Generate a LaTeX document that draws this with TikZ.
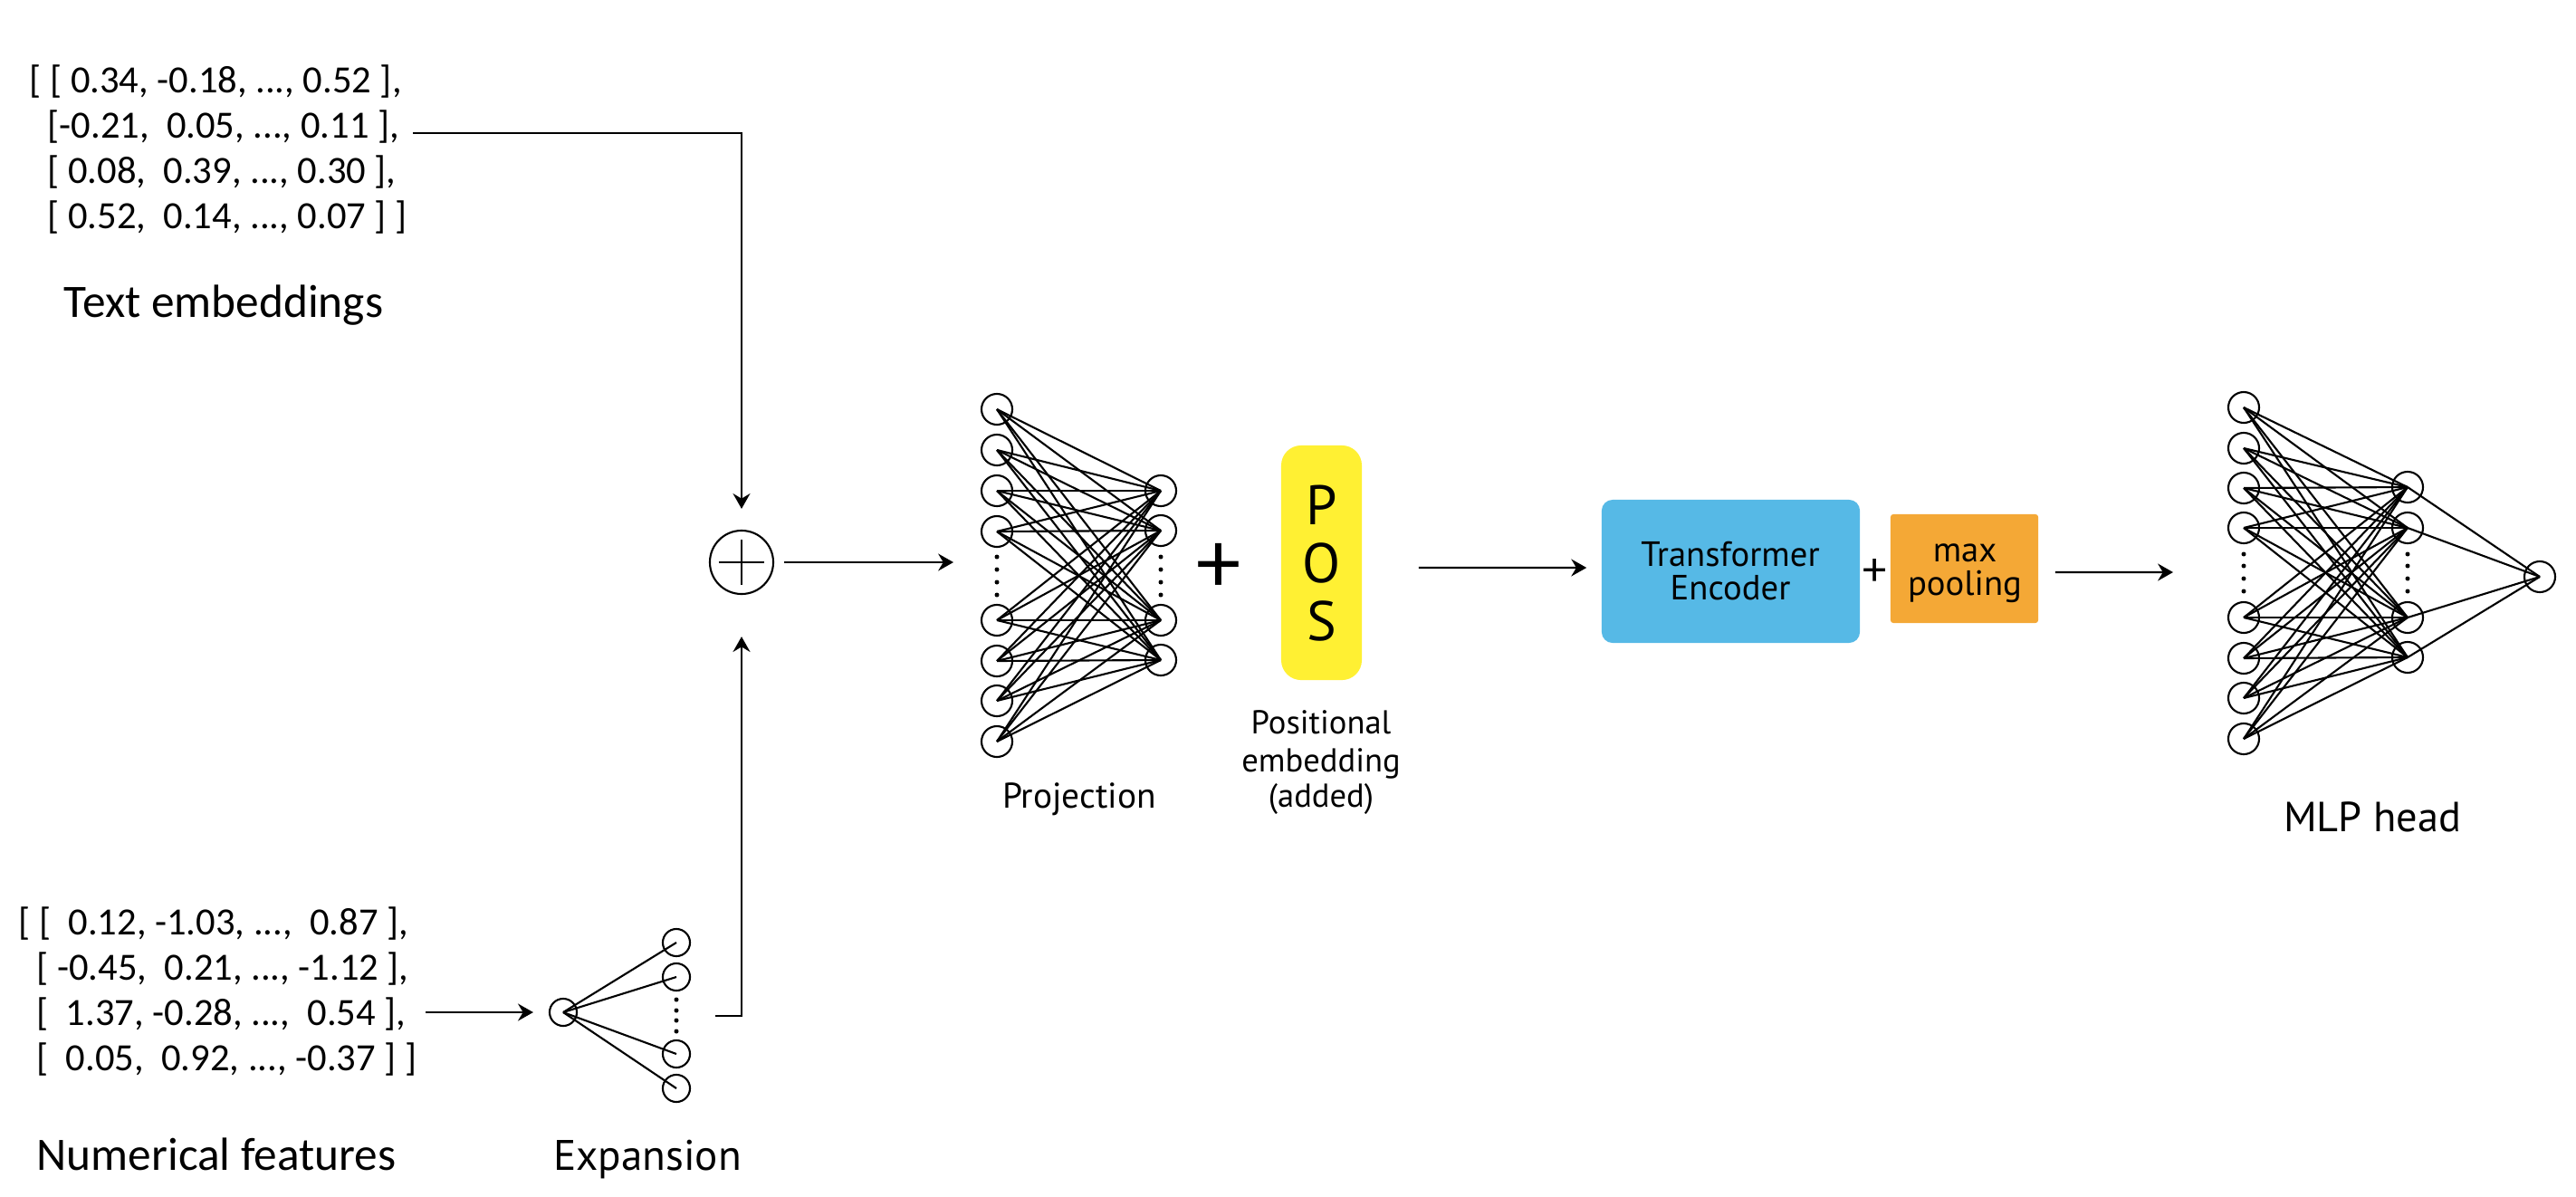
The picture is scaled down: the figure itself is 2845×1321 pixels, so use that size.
\documentclass[tikz,border=0pt]{standalone}
\usepackage{fontspec}
\setmainfont{PT Sans}
\newfontfamily\calfont{Carlito}
\usetikzlibrary{arrows.meta,calc}
\definecolor{posyellow}{RGB}{255,240,51}
\definecolor{tfblue}{RGB}{86,185,230}
\definecolor{mporange}{RGB}{244,168,54}
\tikzset{
 neuron/.style={circle,draw,line width=0.6pt,minimum size=0.34cm,inner sep=0pt},
 eneuron/.style={neuron,minimum size=0.30cm},
 conn/.style={line width=0.6pt},
 arr/.style={line width=0.6pt,-{Stealth[length=4.8pt,width=5.4pt,inset=1.6pt]}},
 mat/.style={anchor=base west,inner sep=0pt,font=\calfont\fontsize{12.1pt}{14pt}\selectfont},
 calbl/.style={anchor=base,inner sep=0pt,font=\calfont\fontsize{14.6pt}{17pt}\selectfont},
 lbl/.style={anchor=base,inner sep=0pt},
}
\begin{document}
\begin{tikzpicture}[x=0.01cm,y=-0.01cm]
\useasboundingbox (0,0) rectangle (2845,1321);

% ---------- Text embeddings ----------
\node[mat] (te1) at (32,102) {[ [ 0.34, -0.18, ..., 0.52 ],};
\node[mat] (te2) at (52,152) {[-0.21,\ \ 0.05, ..., 0.11 ],};
\node[mat] (te3) at (52,202) {[ 0.08,\ \ 0.39, ..., 0.30 ],};
\node[mat] (te4) at (52,252) {[ 0.52,\ \ 0.14, ..., 0.07 ] ]};
\node[calbl] (telbl) at (247,350) {Text embeddings};

% ---------- Numerical features ----------
\node[mat] (nf1) at (20,1032) {[ [\ \ 0.12, -1.03, ...,\ \ 0.87 ],};
\node[mat] (nf2) at (40,1082) {[ -0.45,\ \ 0.21, ..., -1.12 ],};
\node[mat] (nf3) at (40,1132) {[\ \ 1.37, -0.28, ...,\ \ 0.54 ],};
\node[mat] (nf4) at (40,1182) {[\ \ 0.05,\ \ 0.92, ..., -0.37 ] ]};
\node[calbl] (nflbl) at (239,1292) {Numerical features};

% ---------- Expansion ----------
\node[eneuron] (ex0) at (622,1118) {};
\foreach \i/\y in {1/1041,2/1079,3/1164,4/1202}
  \node[eneuron] (ex\i) at (747,\y) {};
\foreach \i in {1,...,4} \draw[conn] (ex0.center) -- (ex\i.center);
\foreach \y in {1104,1116,1127,1139} \fill (747,\y) circle[radius=0.025cm];
\node[lbl,font=\fontsize{13.4pt}{16pt}\selectfont] (exlbl) at (715,1292) {Expansion};

% ---------- Sum ----------
\node[circle,draw,line width=0.6pt,minimum size=0.70cm,inner sep=0pt,
  path picture={\draw[line width=0.6pt] ([xshift=-0.25cm]path picture bounding box.center) -- ([xshift=0.25cm]path picture bounding box.center);
                \draw[line width=0.6pt] ([yshift=-0.25cm]path picture bounding box.center) -- ([yshift=0.25cm]path picture bounding box.center);}]
  (oplus) at (819,621) {};

\coordinate (teout) at (456,147);
\coordinate (nfout) at (470,1118);
\coordinate (exout) at (790,1122);
\coordinate (projin) at (1053,621);
\coordinate (mlpin) at (2400,632);

\draw[arr,shorten >=0.23cm] (teout) -| (oplus.north);
\draw[arr,shorten >=0.17cm] (nfout) -- (ex0.west);
\draw[arr,shorten >=0.46cm] (exout) -| (oplus.south);
\draw[arr,shorten <=0.11cm] (oplus.east) -- (projin);

% ---------- Projection ----------
\foreach \i/\y in {1/452,2/497,3/542,4/587,5/685,6/730,7/774,8/819}
  \node[neuron] (pl\i) at (1101,\y) {};
\foreach \i/\y in {1/542,2/586,3/685,4/729}
  \node[neuron] (ph\i) at (1282,\y) {};
\foreach \i in {1,...,8} \foreach \j in {1,...,4} \draw[conn] (pl\i.center) -- (ph\j.center);
\foreach \y in {615,629,643,657} {\fill (1101,\y) circle[radius=0.025cm]; \fill (1282,\y) circle[radius=0.025cm];}
\node[lbl,font=\fontsize{11.2pt}{13pt}\selectfont] (projlbl) at (1192,892) {Projection};

\node[inner sep=0pt,font=\calfont\fontsize{28pt}{30pt}\selectfont] (plus1) at (1346,627) {+};

% ---------- POS ----------
\node[fill=posyellow,rounded corners=0.22cm,minimum width=0.89cm,minimum height=2.59cm,inner sep=0pt] (pos) at (1459.5,621.5) {};
\node[lbl,font=\fontsize{17.5pt}{20pt}\selectfont] (posP) at (1460,579) {P};
\node[lbl,font=\fontsize{17.5pt}{20pt}\selectfont] (posO) at (1460,643) {O};
\node[lbl,font=\fontsize{17.5pt}{20pt}\selectfont] (posS) at (1460,707) {S};
\node[lbl,font=\fontsize{10.4pt}{12pt}\selectfont] (pe1) at (1459,810) {Positional};
\node[lbl,font=\fontsize{10.4pt}{12pt}\selectfont] (pe2) at (1459,852) {embedding};
\node[lbl,font=\fontsize{10.4pt}{12pt}\selectfont] (pe3) at (1459,891) {(added)};

% ---------- Transformer ----------
\node[fill=tfblue,rounded corners=0.12cm,minimum width=2.85cm,minimum height=1.58cm,inner sep=0pt] (tf) at (1911.5,631) {};
\node[lbl,font=\fontsize{11pt}{13pt}\selectfont] (tf1) at (1911,625) {Transformer};
\node[lbl,font=\fontsize{11pt}{13pt}\selectfont] (tf2) at (1911,662) {Encoder};
\draw[arr,shorten <=0.62cm,shorten >=0.16cm] ([yshift=-0.055cm]pos.east) -- ([yshift=0.04cm]tf.west);

\node[inner sep=0pt,font=\calfont\fontsize{15pt}{17pt}\selectfont] (plus2) at (2071,632) {+};

% ---------- max pooling ----------
\node[fill=mporange,rounded corners=0.03cm,minimum width=1.63cm,minimum height=1.20cm,inner sep=0pt] (mp) at (2169.5,628) {};
\node[lbl,font=\fontsize{11pt}{13pt}\selectfont] (mp1) at (2170,620) {max};
\node[lbl,font=\fontsize{11pt}{13pt}\selectfont] (mp2) at (2170,657) {pooling};
\draw[arr,shorten <=0.18cm] ([yshift=-0.04cm]mp.east) -- (mlpin);

% ---------- MLP head ----------
\foreach \i/\y in {1/450,2/495,3/539,4/583,5/682,6/727,7/771,8/816}
  \node[neuron] (ml\i) at (2478,\y) {};
\foreach \i/\y in {1/538,2/583,3/682,4/726}
  \node[neuron] (mh\i) at (2659,\y) {};
\node[neuron] (mo) at (2805,637) {};
\foreach \i in {1,...,8} \foreach \j in {1,...,4} \draw[conn] (ml\i.center) -- (mh\j.center);
\foreach \j in {1,...,4} \draw[conn] (mh\j.center) -- (mo.center);
\foreach \y in {612,625,639,653} {\fill (2478,\y) circle[radius=0.025cm]; \fill (2659,\y) circle[radius=0.025cm];}
\node[lbl,font=\fontsize{13.2pt}{16pt}\selectfont] (mlplbl) at (2620,918) {MLP head};
\end{tikzpicture}
\end{document}
